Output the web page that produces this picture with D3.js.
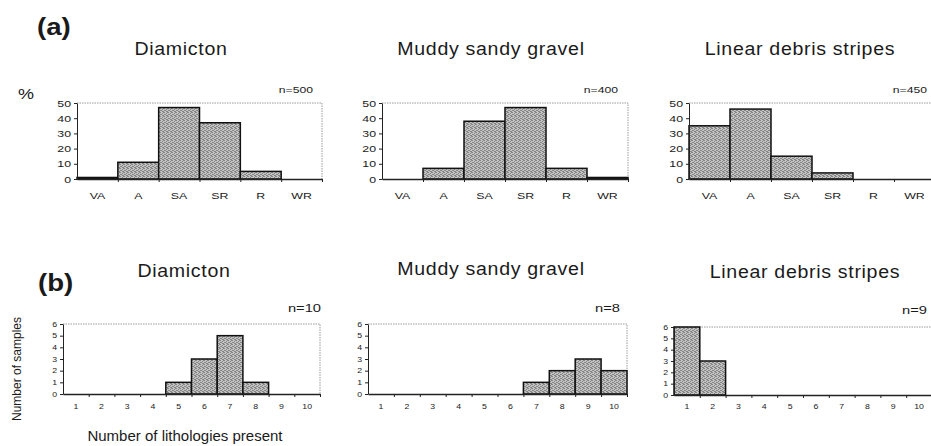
<!DOCTYPE html>
<html>
<head>
<meta charset="utf-8">
<script src="https://cdn.jsdelivr.net/npm/d3@7"></script>
<style>
  body { margin: 0; background: #fff; }
  svg { display: block; font-family: "Liberation Sans", Arial, sans-serif; }
  text { fill: #1a1a1a; }
  .frame { fill: none; stroke: #9a9a9a; stroke-width: 1; stroke-dasharray: 1.5 1; }
  .axis path, .axis line { stroke: #222; }
  .bar { stroke: #111; stroke-width: 1.5; fill: url(#stipple); }
</style>
</head>
<body>
<svg id="chart" width="931" height="446"></svg>
<script>
// shape classes (a)
const shapeCats = ['VA', 'A', 'SA', 'SR', 'R', 'WR'];
const shapeDiamicton = [1, 11, 47, 37, 5, 0];
const shapeGravel = [0, 7, 38, 47, 7, 1];
const shapeStripes = [35, 46, 15, 4, 0, 0];
const shapeTicks = [0, 10, 20, 30, 40, 50];

// lithologies (b)
const lithCats = ['1', '2', '3', '4', '5', '6', '7', '8', '9', '10'];
const lithDiamicton = [0, 0, 0, 0, 1, 3, 5, 1, 0, 0];
const lithGravel = [0, 0, 0, 0, 0, 0, 1, 2, 3, 2];
const lithStripes = [6, 3, 0, 0, 0, 0, 0, 0, 0, 0];
const lithTicks = [0, 1, 2, 3, 4, 5, 6];

const titles = ['Diamicton', 'Muddy sandy gravel', 'Linear debris stripes'];
const shapeN = ['n=500', 'n=400', 'n=450'];
const lithN = ['n=10', 'n=8', 'n=9'];

const svg = d3.select('#chart');

// stippled grey fill like the scanned original
const pat = svg.append('defs').append('pattern')
    .attr('id', 'stipple').attr('width', 4).attr('height', 4)
    .attr('patternUnits', 'userSpaceOnUse');
pat.append('rect').attr('width', 4).attr('height', 4).attr('fill', '#c3c3c3');
[[0, 0], [2, 1], [1, 2], [3, 3], [2, 3], [0, 2], [3, 0]].forEach(p => {
    pat.append('rect').attr('x', p[0]).attr('y', p[1]).attr('width', 1).attr('height', 1).attr('fill', '#858585');
});

// text is a bit wider than the font in the scan, so stretch it on x
function label(x, y, str, size, sx, anchor, weight) {
    return svg.append('text')
        .attr('transform', 'translate(' + x + ',' + y + ') scale(' + sx + ',1)')
        .attr('text-anchor', anchor || 'start')
        .style('font-size', size + 'px')
        .style('font-weight', weight || 'normal')
        .text(str);
}

function panel(p) {
    const g = svg.append('g');
    const x = d3.scaleBand().domain(p.cats).range([p.x0, p.x1]).padding(0);
    const xb = d3.scaleLinear().domain([0, p.cats.length]).range([p.x0, p.x1]);
    const y = d3.scaleLinear().domain([0, p.max]).range([p.y1, p.y0]);

    // dotted top / right frame
    g.append('path').attr('class', 'frame')
        .attr('d', 'M' + p.x0 + ',' + p.y0 + 'H' + p.x1 + 'V' + p.y1);

    p.values.forEach((v, i) => {
        if (v <= 0) return;
        g.append('rect').attr('class', 'bar')
            .attr('x', x(p.cats[i])).attr('y', y(v))
            .attr('width', x.bandwidth()).attr('height', y(0) - y(v));
    });

    const yAxis = g.append('g').attr('class', 'axis')
        .attr('transform', 'translate(' + p.x0 + ',0)')
        .call(d3.axisLeft(y).tickValues(p.ticks).tickFormat(d3.format('d'))
            .tickSize(3).tickSizeOuter(0).tickPadding(3));
    yAxis.selectAll('text').style('font-size', p.tickFont + 'px')
        .attr('transform', 'scale(' + p.sx + ',1)')
        .attr('x', -6 / p.sx).attr('fill', '#222');

    const xAxis = g.append('g').attr('class', 'axis')
        .attr('transform', 'translate(0,' + p.y1 + ')')
        .call(d3.axisBottom(xb).tickValues(d3.range(1, p.cats.length + 1))
            .tickSize(3).tickSizeOuter(0).tickFormat(''));
    xAxis.select('path').attr('stroke-width', 1.3);

    p.cats.forEach(c => {
        label(x(c) + x.bandwidth() / 2, p.labelY, c, p.catFont, p.sx, 'middle');
    });

    label(p.titleX, p.titleY, p.title, 17.5, 1.12, 'middle')
        .style('letter-spacing', '0.6px');
    label(p.nX, p.nY, p.n, p.nFont, 1.28, 'end');
}

const topX = [[77, 322], [382, 628], [689, 935]];
const topData = [shapeDiamicton, shapeGravel, shapeStripes];
const topTitleX = [181, 491, 800];
const topNX = [313, 618, 927];
topX.forEach((r, i) => panel({
    cats: shapeCats, values: topData[i], ticks: shapeTicks, max: 50,
    x0: r[0], x1: r[1], y0: 103, y1: 179,
    tickFont: 9.5, catFont: 9.5, sx: 1.3, labelY: 199,
    title: titles[i], titleX: topTitleX[i], titleY: 55,
    n: shapeN[i], nX: topNX[i], nY: 93, nFont: 9.5
}));

const botX = [[63, 320], [368, 627], [674, 932]];
const botY = [[324, 394], [324, 394], [327, 395]];
const botData = [lithDiamicton, lithGravel, lithStripes];
const botTitleX = [184, 491, 805];
const botTitleY = [277, 275, 278];
const botNX = [321, 620, 927];
const botNY = [312, 312, 314];
botX.forEach((r, i) => panel({
    cats: lithCats, values: botData[i], ticks: lithTicks, max: 6,
    x0: r[0], x1: r[1], y0: botY[i][0], y1: botY[i][1],
    tickFont: 7, catFont: 7, sx: 1.25, labelY: 409,
    title: titles[i], titleX: botTitleX[i], titleY: botTitleY[i],
    n: lithN[i], nX: botNX[i], nY: botNY[i], nFont: 11.5
}));

label(37, 35, '(a)', 23, 1.2, 'start', 'bold');
label(38, 291, '(b)', 23, 1.2, 'start', 'bold');
label(18, 99, '%', 15, 1.2, 'start');

svg.append('text')
    .attr('transform', 'translate(17,369) rotate(-90)')
    .attr('text-anchor', 'middle')
    .attr('dominant-baseline', 'central')
    .style('font-size', '12px')
    .text('Number of samples');

svg.append('text')
    .attr('x', 185).attr('y', 441)
    .attr('text-anchor', 'middle')
    .style('font-size', '15px')
    .text('Number of lithologies present');
</script>
</body>
</html>
